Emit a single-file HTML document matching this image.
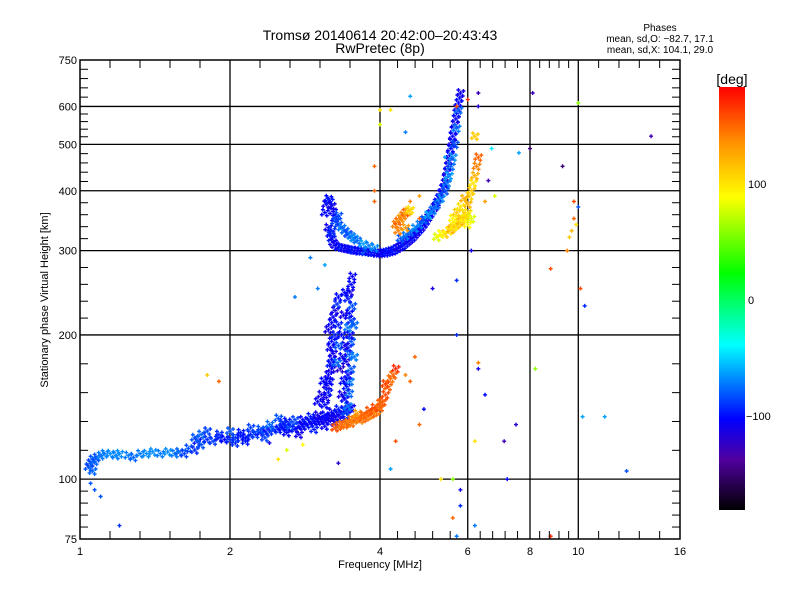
<!DOCTYPE html>
<html><head><meta charset="utf-8"><style>
html,body{margin:0;padding:0;background:#fff}
svg{display:block}
text{font-family:"Liberation Sans",sans-serif;fill:#000}
</style></head><body>
<svg id="chart" width="800" height="600" viewBox="0 0 800 600">
<defs>
<linearGradient id="cbar" x1="0" y1="1" x2="0" y2="0">
<stop offset="0" stop-color="#000000"/>
<stop offset="0.12" stop-color="#5000a0"/>
<stop offset="0.215" stop-color="#0000ff"/>
<stop offset="0.39" stop-color="#00ffff"/>
<stop offset="0.56" stop-color="#00ff00"/>
<stop offset="0.74" stop-color="#ffff00"/>
<stop offset="0.87" stop-color="#ff9000"/>
<stop offset="1" stop-color="#ff0000"/>
</linearGradient>
</defs>
<text x="380" y="40" font-size="14" text-anchor="middle">Tromsø 20140614 20:42:00–20:43:43</text>
<text x="380" y="53" font-size="14" text-anchor="middle">RwPretec (8p)</text>
<g font-size="10">
<text x="660" y="31" text-anchor="middle">Phases</text>
<text x="660" y="42" text-anchor="middle">mean, sd,O: −82.7, 17.1</text>
<text x="660" y="53" text-anchor="middle">mean, sd,X: 104.1, 29.0</text>
</g>
<g id="grid"></g>
<g id="points"></g>
<rect x="80" y="60" width="600" height="479" fill="none" stroke="#000" stroke-width="1.5"/>
<g id="ticks"></g>
<text x="380" y="568" font-size="11" text-anchor="middle">Frequency [MHz]</text>
<text transform="translate(48,300) rotate(-90)" font-size="11" text-anchor="middle">Stationary phase Virtual Height [km]</text>
<rect x="719" y="87" width="26" height="423" fill="url(#cbar)"/>
<text x="732" y="84" font-size="14" text-anchor="middle">[deg]</text>
<g id="cbticks" font-size="11"></g>
</svg>
<script>
const xTickVals=[1,2,4,6,8,10,16];
const yTickVals=[75,100,200,300,400,500,600,750];
const xGridVals=[2,4,6,8,10];
const yGridVals=[100,200,300,400,500,600];
const cbTickVals=[100,0,-100];

// Lower O trace
const lowF=[1.04,1.05,1.06,1.07,1.08,1.1,1.12,1.15,1.18,1.2,1.25,1.28,1.32,1.36,1.4,1.45,1.5,1.55,1.58,1.62,1.65,1.7,1.72,1.75,1.8,1.85,1.9,1.95,2.0,2.05,2.1,2.15,2.2,2.25,2.3,2.35,2.4,2.45,2.5,2.55,2.6,2.65,2.7,2.75,2.8,2.85,2.9,2.95,3.0,3.05,3.1,3.15,3.2,3.25,3.3,3.35,3.4,3.45,3.5,1.7,1.75,1.8,1.9,2.0,2.1,2.2,2.3,2.4,2.5,2.55,2.6,2.7,2.8,2.9,3.0,3.1,3.2,3.3,1.06,2.05,2.15,2.35,2.6,2.75,2.95,3.1,3.25,3.4];
const lowH=[106,108,110,109,111,112,113,113,112,113,112,111,113,113,114,113,114,113,114,113,116,115,120,118,121,120,122,121,121,122,123,122,124,124,125,126,126,127,127,128,128,129,127,129,129,130,131,132,132,133,133,134,134,135,136,137,139,140,141,122,124,126,124,126,125,128,127,130,134,131,132,133,133,135,136,136,138,140,104,119,120,122,125,124,127,129,131,133];
const lowP=[-80,-85,-80,-75,-80,-70,-70,-65,-70,-65,-70,-75,-70,-65,-65,-70,-65,-70,-75,-85,-80,-90,-95,-80,-90,-85,-95,-100,-90,-85,-95,-100,-90,-85,-95,-100,-90,-85,-95,-100,-90,-80,-95,-100,-105,-95,-100,-105,-100,-105,-110,-105,-110,-105,-110,-105,-110,-100,-105,-80,-75,-85,-90,-80,-95,-85,-80,-75,-80,-90,-95,-85,-100,-95,-110,-100,-105,-95,-75,-90,-95,-85,-100,-110,-95,-105,-110,-100];

// Vertical branches
const colF=[3.1,3.12,3.15,3.13,3.17,3.15,3.2,3.18,3.2,3.22,3.18,3.2,3.25,3.15,3.2,3.22,3.25,3.28,3.3,3.42,3.45,3.4,3.47,3.43,3.48,3.45,3.5,3.42,3.47,3.45,3.5,3.48,3.45,3.5,3.47,3.52,3.45,3.48,3.5,3.52,3.35,3.38,3.33,3.36,3.4,3.35,3.3,3.38,3.05,3.08,3.0,3.28,3.3,3.55,3.55,3.4];
const colH=[143,148,152,157,160,165,170,174,178,183,188,194,200,205,212,218,225,232,240,138,142,147,151,156,160,165,170,176,182,188,194,200,207,214,222,230,238,246,255,265,150,160,170,180,190,200,210,220,150,160,145,175,190,180,210,245];
const colP=[-100,-110,-95,-110,-100,-105,-110,-95,-100,-110,-105,-100,-95,-110,-100,-105,-110,-90,-100,-80,-70,-100,-75,-95,-70,-100,-80,-110,-75,-95,-80,-100,-70,-90,-100,-80,-95,-110,-100,-105,-110,-100,-120,-105,-110,-100,-95,-110,-110,-100,-105,-75,-80,-70,-75,-100];

// F2 O trace
const f2F=[3.1,3.12,3.15,3.17,3.2,3.22,3.25,3.15,3.18,3.2,3.22,3.25,3.3,3.35,3.4,3.45,3.5,3.55,3.6,3.65,3.7,3.75,3.8,3.85,3.9,3.95,4.0,4.05,4.1,4.15,4.2,4.25,4.3,4.35,4.4,4.45,4.5,4.55,4.6,4.65,4.7,4.75,4.8,4.85,4.9,4.95,5.0,5.05,5.1,5.15,5.2,5.25,5.3,5.35,5.4,5.42,5.45,5.48,5.5,5.52,5.55,5.58,5.6,5.62,5.65,5.68,5.7,5.72,5.75,5.78,5.8,3.3,3.35,3.4,3.45,3.5,3.55,3.6,3.7,3.8,3.9,4.4,4.5,4.6,4.7,4.8,4.9,5.0,5.1,5.2,5.3,5.4,5.45,5.5,5.55,5.6,5.65,5.7,5.75,3.2,3.25,3.3];
const f2H=[360,375,385,380,372,362,350,335,325,318,312,308,305,304,303,302,301,300,300,299,299,298,298,297,297,296,296,297,297,298,299,300,302,304,306,308,311,314,317,320,324,328,332,336,341,346,352,358,364,370,378,386,395,405,415,425,438,450,462,475,490,505,520,535,550,565,580,595,610,625,640,340,335,330,325,322,318,315,310,307,304,318,322,328,334,340,348,356,364,374,386,400,415,430,450,470,500,540,590,330,345,355];
const f2P=[-100,-110,-100,-95,-110,-105,-100,-110,-100,-95,-105,-110,-100,-95,-110,-105,-100,-95,-105,-100,-95,-80,-100,-105,-95,-100,-110,-105,-100,-95,-105,-100,-95,-110,-105,-100,-95,-110,-105,-100,-110,-105,-100,-110,-105,-100,-110,-105,-100,-110,-105,-100,-110,-105,-100,-110,-105,-100,-110,-105,-100,-110,-105,-100,-110,-105,-100,-110,-105,-100,-110,-80,-70,-75,-85,-70,-65,-75,-60,-70,-65,-80,-70,-75,-65,-70,-80,-60,-70,-75,-65,-80,-70,-60,-75,-65,-80,-70,-75,-90,-85,-80];

// Orange lower trace
const orF=[3.25,3.3,3.35,3.4,3.45,3.5,3.55,3.6,3.65,3.7,3.75,3.8,3.85,3.9,3.95,4.0,4.05,4.1,4.15,4.2,3.5,3.6,3.7,3.8,3.9,4.0,4.1,4.3,4.25];
const orH=[128,129,130,130,131,131,133,134,133,134,135,136,137,138,139,141,145,150,156,162,133,137,136,139,141,144,158,170,165];
const orP=[160,150,145,150,140,150,145,150,140,150,145,140,150,145,140,150,155,160,150,145,140,130,150,155,160,150,160,170,150];

// X trace (yellow)
const xF=[5.4,5.5,5.55,5.6,5.65,5.7,5.75,5.8,5.85,5.9,5.95,6.0,6.0,6.05,6.1,6.15,6.2,6.25,6.3,5.6,5.7,5.8,5.9,6.0,6.1,4.3,4.35,4.4,4.45,4.5,4.55,4.6,4.35,4.5,5.2,5.3,6.2];
const xH=[325,330,332,335,338,340,343,345,348,350,355,360,375,390,400,415,430,450,470,350,360,370,385,340,350,340,345,350,355,360,362,365,330,335,320,325,520];
const xP=[110,100,120,105,95,110,100,120,105,95,110,100,120,105,110,100,120,140,150,90,110,100,120,90,80,140,150,130,140,150,120,100,140,130,80,90,110];

// Scattered
const scF=[4.5,4.6,5.7,6.0,6.3,6.3,8.1,10.0,14,9.3,6.7,4.0,3.9,3.9,4.0,8.0,7.6,6.8,6.5,8.8,9.5,9.8,9.8,10.1,10.3,10.0,2.9,3.0,6.1,5.7,5.1,5.7,6.3,6.3,6.5,7.1,7.5,8.2,6.2,4.8,4.9,4.3,4.2,5.6,5.3,5.8,5.8,7.2,6.2,5.6,8.8,5.7,11.3,12.5,10.2,1.05,1.07,1.1,1.2,1.8,2.5,2.4,2.6,1.9,2.8,3.3,4.7,4.6,4.5,4.8,4.6,4.8,3.9,9.6,9.7,9.9,6.6,5.4,4.2,2.7,3.1];
const scH=[530,630,600,620,640,600,640,610,520,450,490,590,450,380,550,490,480,390,380,275,300,350,380,250,230,370,290,250,300,260,250,200,170,175,150,120,130,170,120,130,140,120,105,100,100,95,88,100,80,83,76,76,135,104,135,98,95,92,80,165,110,119,115,160,118,108,180,160,165,350,380,390,400,320,330,340,420,470,590,240,280];
const scP=[-70,-60,160,170,-130,-120,-130,60,-130,-150,-40,100,150,150,80,-150,-60,80,130,160,140,150,160,160,-90,-80,-70,-70,-110,-90,-110,-90,-110,140,-100,-130,-120,60,100,150,-100,160,-60,60,100,-110,-90,-100,-70,150,170,-70,-60,-80,-60,-80,-80,-80,-90,110,100,-110,80,150,90,-120,150,150,140,150,140,130,150,110,120,100,-130,-60,100,-70,-60];

const X0=80,X1=680,Y0=539,Y1=60;
function xs(f){return X0+(X1-X0)*Math.log2(f)/4;}
function ys(h){return Y0-(Y0-Y1)*Math.log10(h/75);}
const NS='http://www.w3.org/2000/svg';
function mk(tag,attrs,parent){const e=document.createElementNS(NS,tag);for(const k in attrs)e.setAttribute(k,attrs[k]);parent.appendChild(e);return e;}

const stops=[[-181,[0,0,0]],[-138,[80,0,160]],[-101,[0,0,255]],[-36,[0,255,255]],[26,[0,255,0]],[88,[255,255,0]],[135,[255,144,0]],[184,[255,0,0]]];
function pcol(p){
  if(p<=stops[0][0])return 'rgb(0,0,0)';
  for(let i=1;i<stops.length;i++){
    if(p<=stops[i][0]){const a=stops[i-1],b=stops[i];const t=(p-a[0])/(b[0]-a[0]);
      const c=a[1].map((v,j)=>Math.round(v+(b[1][j]-v)*t));return 'rgb('+c.join(',')+')';}
  }
  return 'rgb(255,0,0)';
}

const grid=document.getElementById('grid');
xGridVals.forEach(v=>{const l=mk('line',{x1:xs(v),x2:xs(v),y1:Y1,y2:Y0,stroke:'#000','stroke-width':1.3},grid);

});
yGridVals.forEach(v=>{const l=mk('line',{x1:X0,x2:X1,y1:ys(v),y2:ys(v),stroke:'#000','stroke-width':1.3},grid);

});

const ticks=document.getElementById('ticks');
xTickVals.forEach((v,i)=>{const t=mk('text',{x:xs(v),y:Y0+16,'font-size':11,'text-anchor':'middle'},ticks);t.textContent=v;


 if(i<xTickVals.length-1){const a=xs(v),b=xs(xTickVals[i+1]);for(let k=1;k<5;k++){const px=a+(b-a)*k/5;
  const m=mk('line',{x1:px,x2:px,y1:Y0,y2:Y0-8,stroke:'#000','stroke-width':1},ticks);
  
  
  const m2=mk('line',{x1:px,x2:px,y1:Y1,y2:Y1+8,stroke:'#000','stroke-width':1},ticks);
  
  }}});
yTickVals.forEach((v,i)=>{const t=mk('text',{x:X0-3,y:ys(v)+4,'font-size':11,'text-anchor':'end'},ticks);t.textContent=v;


 if(i<yTickVals.length-1){const a=ys(v),b=ys(yTickVals[i+1]);for(let k=1;k<5;k++){const py=a+(b-a)*k/5;
  const m=mk('line',{x1:X0,x2:X0+8,y1:py,y2:py,stroke:'#000','stroke-width':1},ticks);
  
  
  const m2=mk('line',{x1:X1,x2:X1-8,y1:py,y2:py,stroke:'#000','stroke-width':1},ticks);
  
  }}});

const cbt=document.getElementById('cbticks');
cbTickVals.forEach(v=>{const y=300-1.16*v;const t=mk('text',{x:v<0?746:748,y:y+4},cbt);t.textContent=v<0?'−'+(-v):v;

});

const pts=document.getElementById('points');
// marker footprint offsets (rendering style: thick trace echo blob)
const blob=[[0,0],[-3,2],[3,-2],[2,3],[-2,-3]];
function drawSet(F,H,P,name,thick){
  const offs=thick?blob:[[0,0]];
  for(let i=0;i<F.length;i++){
    const x=xs(F[i]),y=ys(H[i]);
    let d='';
    offs.forEach(o=>{const cx=x+o[0],cy=y+o[1];d+='M'+(cx-2)+' '+cy+'h4M'+cx+' '+(cy-2)+'v4';});
    const p=mk('path',{d:d,stroke:pcol(P[i]),'stroke-width':1.4,fill:'none'},pts);
    
    
  }
}
drawSet(lowF,lowH,lowP,'low-o-trace-point',true);
drawSet(colF,colH,colP,'vertical-branch-point',true);
drawSet(f2F,f2H,f2P,'f2-o-trace-point',true);
drawSet(orF,orH,orP,'orange-trace-point',true);
drawSet(xF,xH,xP,'x-trace-point',true);
drawSet(scF,scH,scP,'scatter-point',false);
</script>
</body></html>
